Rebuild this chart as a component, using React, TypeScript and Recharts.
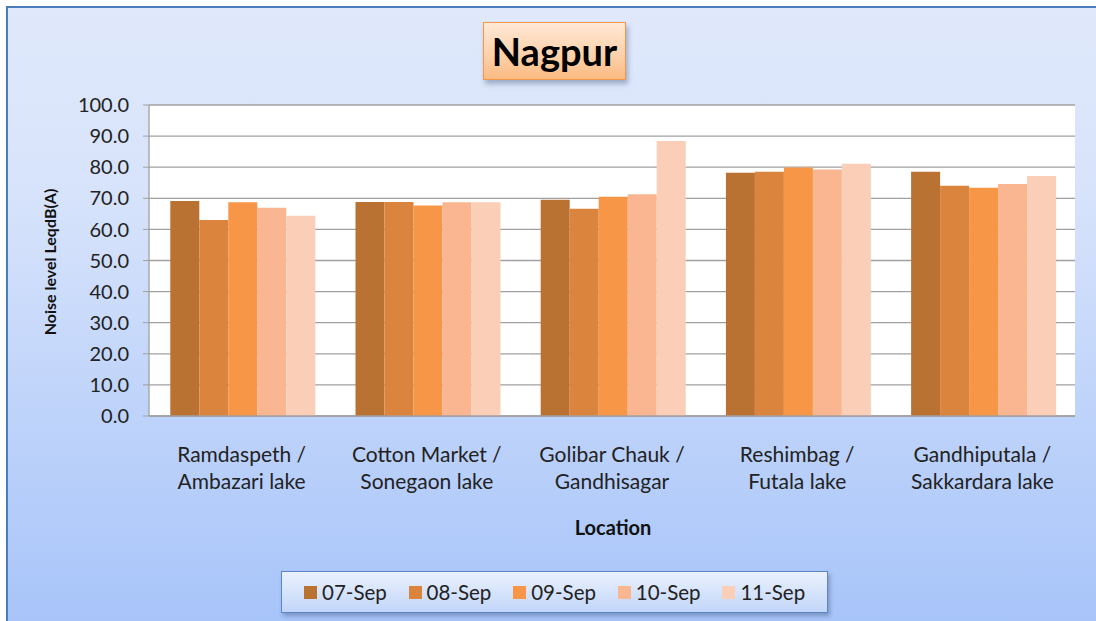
import React from 'react';
import { BarChart, Bar, XAxis, YAxis, CartesianGrid, Legend, Label } from 'recharts';

const categories = [
  'Ramdaspeth / Ambazari lake',
  'Cotton Market / Sonegaon lake',
  'Golibar Chauk / Gandhisagar',
  'Reshimbag / Futala lake',
  'Gandhiputala / Sakkardara lake',
];
const sep07 = [69.1, 68.8, 69.5, 78.2, 78.5];
const sep08 = [63.0, 68.8, 66.6, 78.5, 74.0];
const sep09 = [68.7, 67.7, 70.5, 79.9, 73.4];
const sep10 = [67.0, 68.7, 71.3, 79.3, 74.6];
const sep11 = [64.4, 68.7, 88.4, 81.1, 77.2];
const seriesNames = ['07-Sep', '08-Sep', '09-Sep', '10-Sep', '11-Sep'];
const seriesColors = ['#BA7233', '#DB843E', '#F79646', '#F9B691', '#FBCEB8'];
const yTicks = [0, 10, 20, 30, 40, 50, 60, 70, 80, 90, 100];

const seriesValues = [sep07, sep08, sep09, sep10, sep11];
const data = categories.map((c, i) => {
  const row: any = { location: c };
  seriesNames.forEach((s, k) => {
    row[s] = seriesValues[k][i];
  });
  return row;
});

const FONT = 'Lato, "Open Sans", sans-serif';

const CategoryTick = (props: any) => {
  const { x, y, payload } = props;
  const parts = String(payload.value).split(' / ');
  return (
    <text x={x} y={y} textAnchor="middle" fill="#222" fontFamily={FONT} fontSize={21}>
      <tspan x={x} y={y + 46}>{parts[0] + ' /'}</tspan>
      <tspan x={x} y={y + 72.5}>{parts[1]}</tspan>
    </text>
  );
};

const LegendBox = (props: any) => {
  const payload = props.payload || [];
  return (
    <div
      style={{
        width: 547,
        height: 42,
        boxSizing: 'border-box',
        border: '1.5px solid #5B87C6',
        background: 'linear-gradient(to bottom, #EAF1FD, #C2D6F9)',
        boxShadow: '2px 3px 4px rgba(40,60,100,0.35)',
        display: 'flex',
        alignItems: 'center',
        paddingLeft: 22,
        fontFamily: FONT,
        fontSize: 20.5,
        color: '#222',
      }}
    >
      {payload.map((p: any) => (
        <div key={p.value} style={{ display: 'flex', alignItems: 'center', width: 106.5 }}>
          <span style={{ display: 'inline-block', width: 13, height: 13, background: p.color, marginRight: 5 }} />
          <span>{p.value}</span>
        </div>
      ))}
    </div>
  );
};

export default function App() {
  return (
    <div style={{ position: 'absolute', left: 0, top: 0, width: 1096, height: 621, overflow: 'hidden', background: '#ffffff' }}>
      <div
        style={{
          position: 'absolute',
          left: 6,
          top: 6,
          width: 1110,
          height: 630,
          boxSizing: 'border-box',
          border: '2px solid #4A7EBB',
          background: 'linear-gradient(to bottom, #E0E9FB 0%, #D7E3FB 30%, #BBD1FA 70%, #A6C3F9 100%)',
        }}
      />
      <div
        style={{
          position: 'absolute',
          left: 483,
          top: 22,
          width: 143,
          height: 58,
          boxSizing: 'border-box',
          border: '1.5px solid #F79646',
          background: 'linear-gradient(to bottom, #FFE8D6, #FDD0A8 60%, #FBBA82)',
          boxShadow: '2px 4px 5px rgba(40,60,100,0.35)',
          display: 'flex',
          alignItems: 'center',
          justifyContent: 'center',
          fontFamily: FONT,
          fontWeight: 700,
          fontSize: 38,
          color: '#000',
          zIndex: 2,
        }}
      >
        Nagpur
      </div>
      <div style={{ position: 'absolute', left: 0, top: 0 }}>
        <BarChart
          width={1096}
          height={621}
          data={data}
          margin={{ top: 105, right: 21, bottom: 75, left: 0 }}
          barCategoryGap="11.5%"
          barGap={0}
        >
          <CartesianGrid vertical={false} stroke="#A0A0A0" strokeWidth={1.3} fill="#ffffff" fillOpacity={1} />
          <XAxis
            dataKey="location"
            height={130}
            tick={<CategoryTick />}
            tickLine={false}
            tickSize={0}
            tickMargin={0}
            interval={0}
            axisLine={{ stroke: '#A0A0A0', strokeWidth: 1.3 }}
          >
            <Label
              content={() => (
                <text x={613} y={535} textAnchor="middle" fontFamily={FONT} fontWeight={700} fontSize={20} fill="#111">
                  Location
                </text>
              )}
            />
          </XAxis>
          <YAxis
            width={149}
            domain={[0, 100]}
            ticks={yTicks}
            interval={0}
            tickFormatter={(v: number) => v.toFixed(1)}
            tick={{ fill: '#222', fontFamily: FONT, fontSize: 20 }}
            tickSize={6}
            tickMargin={14}
            tickLine={{ stroke: '#A0A0A0' }}
            axisLine={{ stroke: '#A0A0A0', strokeWidth: 1.3 }}
          >
            <Label
              content={() => (
                <text
                  x={49}
                  y={262}
                  transform="rotate(-90 49 262)"
                  textAnchor="middle"
                  dominantBaseline="central"
                  fontFamily={FONT}
                  fontWeight={700}
                  fontSize={16}
                  fill="#111"
                >
                  Noise level LeqdB(A)
                </text>
              )}
            />
          </YAxis>
          <Legend
            verticalAlign="middle"
            align="center"
            layout="horizontal"
            wrapperStyle={{ left: 281, top: 571, width: 547, height: 42 }}
            content={<LegendBox />}
          />
          {seriesNames.map((s, k) => (
            <Bar key={s} dataKey={s} name={s} fill={seriesColors[k]} isAnimationActive={false} />
          ))}
        </BarChart>
      </div>
    </div>
  );
}
